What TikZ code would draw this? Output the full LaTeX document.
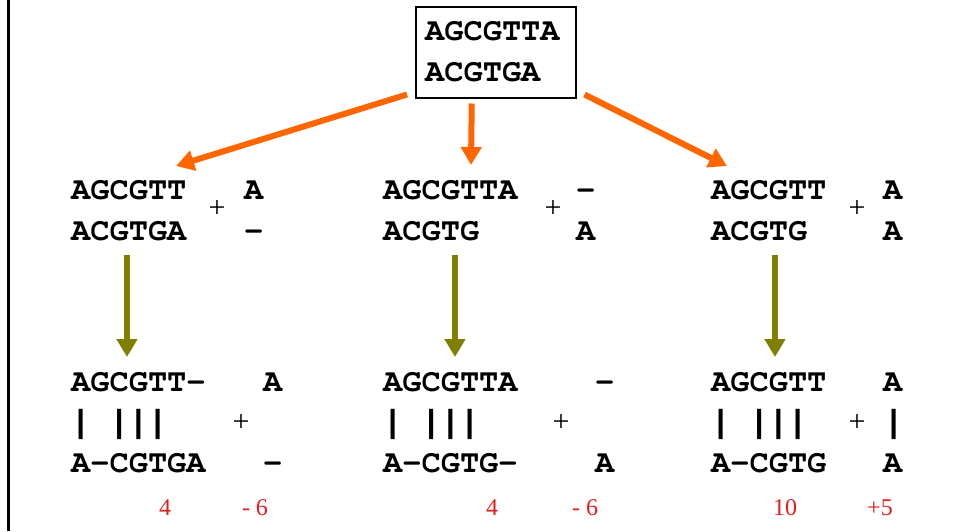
\documentclass[tikz,border=0pt]{standalone}
\usepackage[T1]{fontenc}
\usepackage{fontspec}
\setmainfont{Liberation Serif}
\setmonofont{Liberation Mono}
\usetikzlibrary{arrows.meta}
\definecolor{arrorange}{RGB}{255,102,0}
\definecolor{arrolive}{RGB}{128,128,0}
\definecolor{scorered}{RGB}{226,30,30}
\newcommand{\courierbold}{\fontencoding{T1}\fontfamily{pcr}\fontseries{b}\fontshape{n}\fontsize{32}{38}\selectfont}
\begin{document}
\begin{tikzpicture}[x=1pt,y=-1pt,
  seq/.style={font=\courierbold, anchor=base west, inner sep=0pt},
  bars/.style={font=\ttfamily\bfseries\fontsize{32}{38}\selectfont, anchor=base west, inner sep=0pt},
  plus/.style={font=\fontsize{30}{36}\selectfont, inner sep=0pt},
  score/.style={font=\fontsize{24}{28}\selectfont, text=scorered, anchor=base, inner sep=0pt},
  oarrow/.style={draw=arrorange, line width=6pt, -{Triangle[width=20pt,length=18pt,fill=arrorange]}},
  garrow/.style={draw=arrolive, line width=6pt, -{Triangle[width=20pt,length=18pt,fill=arrolive]}}]
\useasboundingbox (0,0) rectangle (954,531);
% left frame line
\draw[line width=2.5pt] (8.5,0) -- (8.5,531);
% top box
\node[draw, line width=1.5pt, minimum width=160pt, minimum height=91pt, inner sep=0pt, anchor=north west] (top) at (415,6) {};
\node[seq] (t1) at (425,40) {AGCGTTA};
\node[seq] (t2) at (425,81) {ACGTGA};
% row 1 left
\node[seq] (a1) at (71,199) {AGCGTT};
\node[seq] (a2) at (71,240) {ACGTGA};
\node[plus] (ap) at (217,209) {+};
\node[seq] (a3) at (244,199) {A};
\node[seq] (a4) at (244,240) {-};
% row 1 middle
\node[seq] (b1) at (383,199) {AGCGTTA};
\node[seq] (b2) at (383,240) {ACGTG};
\node[plus] (bp) at (553,209) {+};
\node[seq] (b3) at (576,199) {-};
\node[seq] (b4) at (576,240) {A};
% row 1 right
\node[seq] (c1) at (711,199) {AGCGTT};
\node[seq] (c2) at (711,240) {ACGTG};
\node[plus] (cp) at (857,209) {+};
\node[seq] (c3) at (883,199) {A};
\node[seq] (c4) at (883,240) {A};
% row 2 left
\node[seq] (d1) at (71,391) {AGCGTT-};
\node[bars] (d2) at (71,432) {| |||};
\node[seq] (d3) at (71,472) {A-CGTGA};
\node[plus] (dp) at (241,423) {+};
\node[seq] (d4) at (263,391) {A};
\node[seq] (d5) at (263,472) {-};
% row 2 middle
\node[seq] (e1) at (383,391) {AGCGTTA};
\node[bars] (e2) at (383,432) {| |||};
\node[seq] (e3) at (383,472) {A-CGTG-};
\node[plus] (ep) at (561,423) {+};
\node[seq] (e4) at (595,391) {-};
\node[seq] (e5) at (595,472) {A};
% row 2 right
\node[seq] (f1) at (711,391) {AGCGTT};
\node[bars] (f2) at (711,432) {| |||};
\node[seq] (f3) at (711,472) {A-CGTG};
\node[plus] (fp) at (857,423) {+};
\node[seq] (f4) at (883,391) {A};
\node[bars] (f5) at (884,432) {|};
\node[seq] (f6) at (883,472) {A};
% scores
\node[score] (s1) at (165,515) {4};
\node[score] (s2) at (255,515) {- 6};
\node[score] (s3) at (492,515) {4};
\node[score] (s4) at (585,515) {- 6};
\node[score] (s5) at (785,515) {10};
\node[score] (s6) at (880,515) {+5};
% arrow ends
\coordinate (tipa) at (176,166);
\coordinate (tipb) at (471,165);
\coordinate (tipc) at (727,166);
\coordinate (sa) at (127,255);
\coordinate (sb) at (455,255);
\coordinate (sc) at (775,255);
\coordinate (ea) at (127,357);
\coordinate (eb) at (455,357);
\coordinate (ec) at (775,357);
% orange arrows
\draw[oarrow] ([shift={(-8,-4)}]top.south west) -- (tipa);
\draw[oarrow] ([shift={(-24,5)}]top.south) -- (tipb);
\draw[oarrow] ([shift={(8,-4)}]top.south east) -- (tipc);
% olive arrows
\draw[garrow] (sa) -- (ea);
\draw[garrow] (sb) -- (eb);
\draw[garrow] (sc) -- (ec);
\end{tikzpicture}
\end{document}
